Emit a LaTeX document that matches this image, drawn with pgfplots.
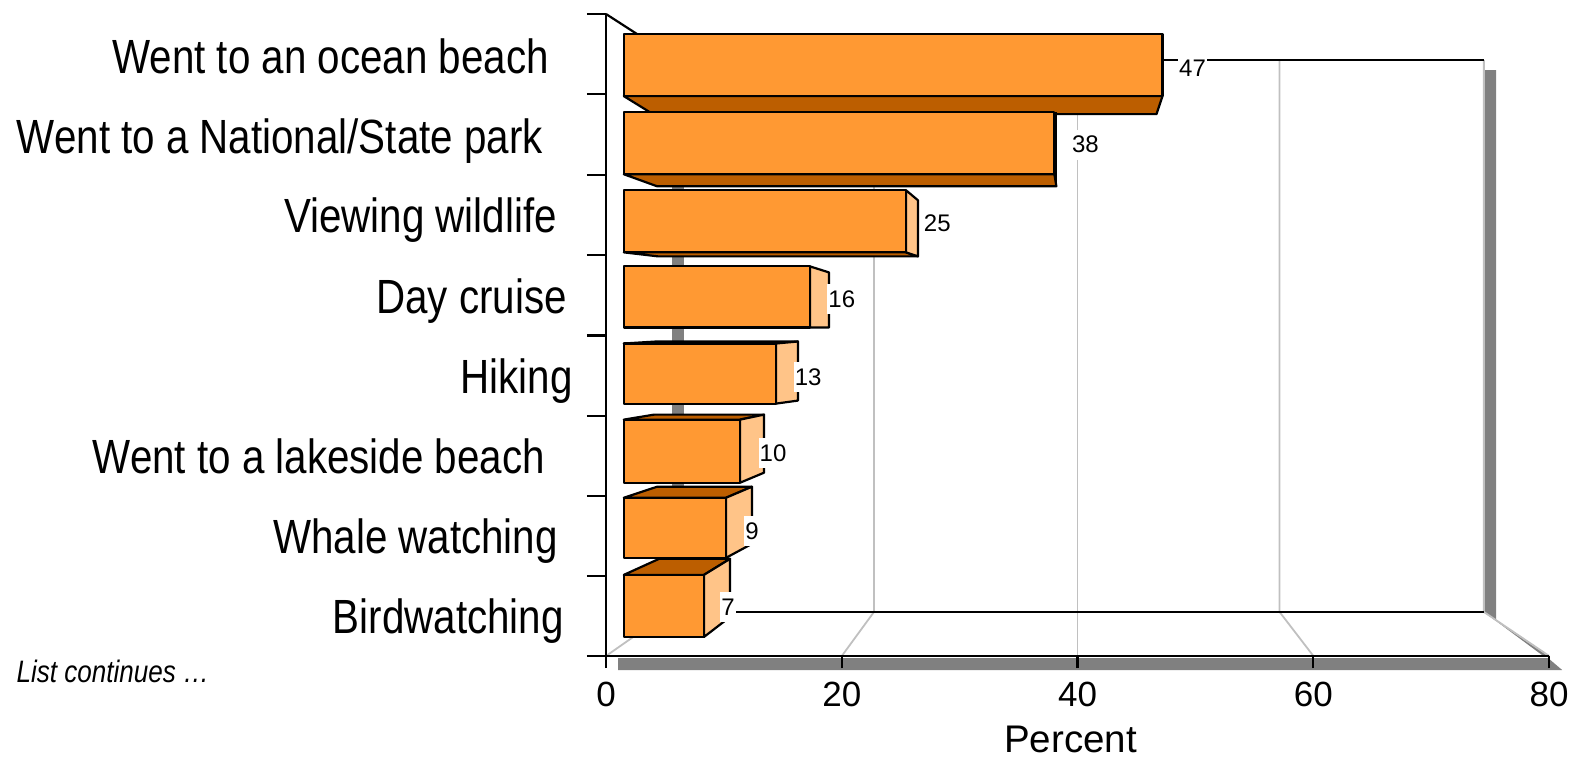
\documentclass[border=0pt]{standalone}
\usepackage{fontspec}
\usepackage{pgfplots}
\pgfplotsset{compat=1.18}
\setmainfont{Liberation Sans}
\newfontfamily\narrowf[FakeStretch=0.84]{Liberation Sans}
\definecolor{barfront}{HTML}{FF9933}
\definecolor{barside}{HTML}{FFC488}
\definecolor{bardark}{HTML}{BC5E00}
\definecolor{shadowgray}{HTML}{808080}
\definecolor{gridgray}{HTML}{C0C0C0}
\pgfplotsset{
  front/.style={fill=barfront,draw=black,line width=2.2pt,line join=round,mark=none},
  side/.style={fill=barside,draw=black,line width=2.2pt,line join=round,mark=none},
  dark/.style={fill=bardark,draw=black,line width=2.2pt,line join=round,mark=none},
  shadow/.style={fill=shadowgray,draw=none,mark=none},
  gridl/.style={draw=gridgray,line width=1.8pt,mark=none},
  wall/.style={draw=black,line width=2.2pt,mark=none},
}
\begin{document}
\begin{tikzpicture}
\begin{axis}[
  at={(0pt,0pt)},anchor=south west,
  scale only axis,width=943.2pt,height=642pt,
  xmin=0,xmax=80,ymin=0,ymax=641,
  clip=false,axis on top=true,
  axis x line=bottom,axis y line=left,
  axis line style={-,black,line width=2.2pt},
  tick align=outside,
  major tick length=12pt,minor tick length=19pt,
  xtick={0,20,40,60,80},
  ytick={38,118,198,278,358,439,518,598},
  yticklabels={%
    {\narrowf Birdwatching\rule{30pt}{0pt}},
    {\narrowf Whale watching\rule{36pt}{0pt}},
    {\narrowf Went to a lakeside beach\rule{49pt}{0pt}},
    {\narrowf Hiking\rule{21pt}{0pt}},
    {\narrowf Day cruise\rule{27pt}{0pt}},
    {\narrowf Viewing wildlife\rule{37pt}{0pt}},
    {\narrowf Went to a National/State park\rule{51pt}{0pt}},
    {\narrowf Went to an ocean beach\rule{45pt}{0pt}}},
  minor ytick={0,80,160,240,320,400,480,561,641},
  ytick style={draw=none},
  minor y tick style={draw=black,line width=2.2pt},
  xtick style={black,line width=2.2pt},
  yticklabel style={font=\fontsize{48}{48}\selectfont,anchor=east,inner sep=0pt,
    text height=35pt,text depth=10pt,yshift=-3.5pt},
  xticklabel style={font=\fontsize{35}{35}\selectfont,/pgf/number format/assume math mode=true,inner xsep=0pt,yshift=-11pt},
  xlabel={Percent},
  every axis x label/.style={at={(axis cs:39.4,-83)},anchor=center,inner sep=0pt,font=\fontsize{38.5}{38.5}\selectfont},
]
% shadows of the walls and floor
\addplot[shadow] coordinates {(1.02,-2)(79.9,-2)(81.10,-14)(1.02,-14)} --cycle;
\addplot[shadow] coordinates {(74.46,585)(75.50,585)(75.50,35)(74.46,44)} --cycle;
\addplot[shadow] coordinates {(5.61,585)(6.62,585)(6.62,44)(5.61,44)} --cycle;
\addplot[shadow] coordinates {(74.46,44)(75.50,35)(79.9,0)(79.5,0)} --cycle;
% back wall gridlines
\addplot[gridl] coordinates {(0,0)(5.35,44)};
\addplot[gridl] coordinates {(20,0)(22.73,44)(22.73,595)};
\addplot[gridl] coordinates {(40,0)(40,595)};
\addplot[gridl] coordinates {(60,0)(57.13,44)(57.13,595)};
\addplot[gridl] coordinates {(80,0)(74.46,44)(74.46,595)};
\addplot[wall] coordinates {(5.35,595)(74.46,595)};
\addplot[wall] coordinates {(5.35,44)(74.46,44)};
\addplot[wall] coordinates {(0,641)(2.63,621)};
% Went to an ocean beach
\addplot[dark] coordinates {(1.51,559)(47.20,559)(46.69,541)(3.99,541)} --cycle;
\addplot[front] coordinates {(1.51,621)(47.20,621)(47.20,559)(1.51,559)} --cycle;
% Went to a National/State park
\addplot[dark] coordinates {(1.51,481)(38.03,481)(38.20,469)(4.33,469)} --cycle;
\addplot[front] coordinates {(1.51,543)(38.03,543)(38.03,481)(1.51,481)} --cycle;
\addplot[wall] coordinates {(38.20,543)(38.20,469)};
% Viewing wildlife
\addplot[dark] coordinates {(1.51,403)(25.45,403)(26.46,399)(4.42,399)} --cycle;
\addplot[side] coordinates {(25.45,465)(26.46,455)(26.46,399)(25.45,403)} --cycle;
\addplot[front] coordinates {(1.51,465)(25.45,465)(25.45,403)(1.51,403)} --cycle;
% Day cruise
\addplot[side] coordinates {(17.30,389)(18.91,383)(18.91,328)(17.30,328)} --cycle;
\addplot[front] coordinates {(1.51,389)(17.30,389)(17.30,328)(1.51,328)} --cycle;
\addplot[wall] coordinates {(18.91,383)(18.91,328)};
% Hiking
\addplot[dark] coordinates {(1.51,312)(4.25,314)(16.28,314)(14.42,312)} --cycle;
\addplot[side] coordinates {(14.42,312)(16.28,314)(16.28,255)(14.42,252)} --cycle;
\addplot[front] coordinates {(1.51,312)(14.42,312)(14.42,252)(1.51,252)} --cycle;
% Went to a lakeside beach
\addplot[dark] coordinates {(1.51,236)(4.08,241)(13.40,241)(11.37,236)} --cycle;
\addplot[side] coordinates {(11.37,236)(13.40,241)(13.40,183)(11.37,173)} --cycle;
\addplot[front] coordinates {(1.51,236)(11.37,236)(11.37,173)(1.51,173)} --cycle;
% Whale watching
\addplot[dark] coordinates {(1.51,158)(4.33,169)(12.38,169)(10.18,158)} --cycle;
\addplot[side] coordinates {(10.18,158)(12.38,169)(12.38,112)(10.18,98)} --cycle;
\addplot[front] coordinates {(1.51,158)(10.18,158)(10.18,98)(1.51,98)} --cycle;
% Birdwatching
\addplot[dark] coordinates {(1.51,81)(4.50,97)(10.52,97)(8.31,81)} --cycle;
\addplot[side] coordinates {(8.31,81)(10.52,97)(10.52,39)(8.31,19)} --cycle;
\addplot[front] coordinates {(1.51,81)(8.31,81)(8.31,19)(1.51,19)} --cycle;
% value labels
\addplot[draw=none,mark=none,point meta=explicit symbolic,
  nodes near coords,
  nodes near coords style={anchor=center,fill=white,inner xsep=1pt,inner ysep=0pt,
    minimum height=30pt,font=\fontsize{24}{24}\selectfont}]
  coordinates {(49.75,586.5)[47] (40.66,510.5)[38] (28.1,432.5)[25] (20.0,356.5)[16]
               (17.15,278.5)[13] (14.17,202.5)[10] (12.38,124.5)[9] (10.35,48.5)[7]};
\node[anchor=west,inner sep=0pt,font=\narrowf\itshape\fontsize{31}{31}\selectfont] at (axis cs:-50.0,-15) {List continues \dots};
\end{axis}
\path[use as bounding box] (-606pt,-101pt) rectangle (964pt,656pt);
\end{tikzpicture}
\end{document}
